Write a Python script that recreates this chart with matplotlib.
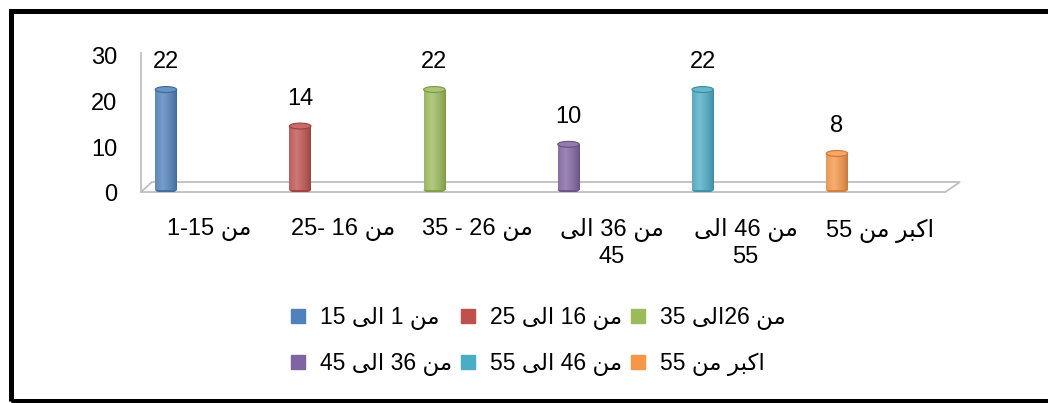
import numpy as np
import matplotlib
matplotlib.use('Agg')
import matplotlib.pyplot as plt
from matplotlib.patches import Ellipse, Polygon, Rectangle
from matplotlib.lines import Line2D
from matplotlib.colors import to_rgb
from matplotlib.transforms import ScaledTranslation

# Arabic words in presentation forms, written in visual (left-to-right) order
MIN = '\uFEE6\uFEE3'            # من
ILA = '\uFEF0\uFEDF\uFE8D'      # الى
AKBAR = '\uFEAE\uFE92\uFEDB\uFE8D'  # اكبر

values = [22, 14, 22, 10, 22, 8]
categories = [
    '1-15 ' + MIN,
    '25- 16 ' + MIN,
    '35 - 26 ' + MIN,
    ILA + ' 36 ' + MIN + '\n45',
    ILA + ' 46 ' + MIN + '\n55',
    '55 ' + MIN + ' ' + AKBAR,
]
legend_labels = [
    '15 ' + ILA + ' 1 ' + MIN,
    '25 ' + ILA + ' 16 ' + MIN,
    '35 ' + ILA + '26 ' + MIN,
    '45 ' + ILA + ' 36 ' + MIN,
    '55 ' + ILA + ' 46 ' + MIN,
    '55 ' + MIN + ' ' + AKBAR,
]
colors = ['#4F81BD', '#C0504D', '#9BBB59', '#8064A2', '#4BACC6', '#F79646']
yticks = [0, 10, 20, 30]

FONT = ['Liberation Sans', 'DejaVu Sans']
plt.rcParams['font.family'] = FONT

W, H = 1048, 403


def px_rect(l, t, r, b):
    return [l / W, 1 - b / H, (r - l) / W, (b - t) / H]


fig = plt.figure(figsize=(W / 100, H / 100), dpi=100)
ax = fig.add_axes(px_rect(141, 53, 960, 192))

x = np.arange(len(values))
w = 0.16
cap_h = 1.3

bars = ax.bar(x, values, width=w, color=colors, zorder=2)


def shade(c, t):
    rgb = np.array(to_rgb(c))
    dark = rgb * 0.8
    light = rgb + (1 - rgb) * 0.22
    f = np.clip(1 - np.abs(t - 0.35) / 0.65, 0, 1) ** 0.7
    return dark[None, :] + (light - dark)[None, :] * f[:, None]


t = np.linspace(0, 1, 60)
for i, (bar, v, c) in enumerate(zip(bars, values, colors)):
    img = shade(c, t)[None, :, :]
    im = ax.imshow(img, extent=[x[i] - w / 2, x[i] + w / 2, 0, v],
                   aspect='auto', zorder=2.1, interpolation='bilinear')
    im.set_clip_path(bar)
    rgb = np.array(to_rgb(c))
    ax.add_patch(Ellipse((x[i], 0), w, cap_h, fc=rgb * 0.85, ec='none', zorder=1.9))
    ax.add_patch(Ellipse((x[i], v), w, cap_h, fc=rgb + (1 - rgb) * 0.15,
                         ec=rgb * 0.8, lw=0.8, zorder=2.2))
    ax.text(x[i], v + 6.0, str(v), ha='center', va='center', fontsize=17,
            family=FONT)

ax.set_xlim(-0.186, 5.917)
ax.set_ylim(-0.44, 30)

# 3D-looking floor and side wall
floor = Polygon([(0, 0), (0.982, 0), (1, 0.072), (0.0134, 0.072)], closed=True,
                fill=False, ec='#BFBFBF', lw=1.3, transform=ax.transAxes,
                clip_on=False, zorder=1)
ax.add_patch(floor)
ax.plot([0, 0], [0, 1], color='#BFBFBF', lw=1.3, transform=ax.transAxes,
        clip_on=False, zorder=1)

for s in ax.spines.values():
    s.set_visible(False)
ax.set_yticks(yticks)
ax.set_yticklabels([str(v) for v in yticks], fontsize=17)
ax.set_xticks(x + 0.32)
ax.set_xticklabels(categories, fontsize=17)
ax.tick_params(axis='y', length=0, pad=17)
ax.tick_params(axis='x', length=0, pad=19)
shift = ScaledTranslation(0, -3 / 100, fig.dpi_scale_trans)
for lbl in ax.get_yticklabels():
    lbl.set_transform(lbl.get_transform() + shift)
ax.set_facecolor('none')

order = [0, 3, 1, 4, 2, 5]
handles = [Line2D([], [], marker='s', ls='none', color=colors[k], markersize=10)
           for k in order]
fig.legend(handles, [legend_labels[k] for k in order], ncol=3, frameon=False,
           loc='upper left', bbox_to_anchor=(280 / W, 1 - 297 / H),
           fontsize=16.5, handlelength=0.8, handletextpad=0.55,
           columnspacing=0.3, labelspacing=0.95, borderaxespad=0)

fig.patches.append(Rectangle((10.5 / W, 1 - 400.5 / H), 2, 390 / H,
                             transform=fig.transFigure, fill=False,
                             ec='black', lw=3.6))

fig.savefig('out.png', dpi=100)
